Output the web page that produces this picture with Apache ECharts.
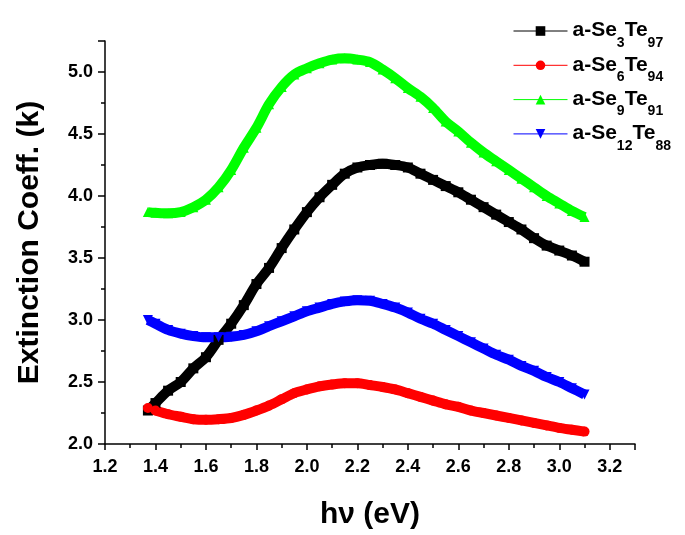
<!DOCTYPE html>
<html>
<head>
<meta charset="utf-8">
<script src="https://cdn.jsdelivr.net/npm/echarts@6/dist/echarts.min.js"></script>
<style>
html,body{margin:0;padding:0;background:#fff;}
#chart{width:685px;height:535px;}
</style>
</head>
<body>
<div id="chart"></div>
<script>
// photon energy (eV)
const energy = [1.37,1.40,1.45,1.50,1.55,1.60,1.65,1.70,1.75,1.80,1.85,1.90,1.95,2.00,2.05,2.10,2.15,2.20,2.25,2.30,2.35,2.40,2.45,2.50,2.55,2.60,2.65,2.70,2.75,2.80,2.85,2.90,2.95,3.00,3.05,3.10];
const kSe3Te97 = [2.27,2.33,2.43,2.50,2.61,2.70,2.84,2.97,3.12,3.29,3.42,3.58,3.73,3.87,3.99,4.09,4.18,4.23,4.25,4.26,4.25,4.23,4.18,4.13,4.08,4.03,3.97,3.91,3.85,3.79,3.73,3.66,3.60,3.56,3.52,3.47];
const kSe6Te94 = [2.29,2.27,2.24,2.22,2.20,2.195,2.20,2.21,2.235,2.27,2.31,2.36,2.41,2.44,2.465,2.48,2.49,2.49,2.475,2.46,2.44,2.41,2.38,2.35,2.32,2.30,2.27,2.25,2.23,2.21,2.19,2.17,2.15,2.13,2.115,2.10];
const kSe9Te91 = [3.87,3.865,3.86,3.87,3.91,3.97,4.07,4.21,4.39,4.55,4.74,4.88,4.98,5.03,5.07,5.10,5.11,5.10,5.08,5.02,4.95,4.87,4.80,4.71,4.60,4.52,4.43,4.35,4.28,4.21,4.14,4.07,4.00,3.94,3.88,3.83];
const kSe12Te88 = [3.00,2.97,2.92,2.89,2.87,2.86,2.86,2.865,2.88,2.91,2.95,2.99,3.03,3.07,3.10,3.13,3.15,3.16,3.155,3.13,3.10,3.06,3.01,2.97,2.92,2.87,2.82,2.77,2.72,2.68,2.63,2.59,2.54,2.50,2.45,2.40];
const seriesNames = ['a-Se3Te97','a-Se6Te94','a-Se9Te91','a-Se12Te88'];
const legendLabels = {
  'a-Se3Te97': '{m|a-Se}{s|3}{m|Te}{s|97}',
  'a-Se6Te94': '{m|a-Se}{s|6}{m|Te}{s|94}',
  'a-Se9Te91': '{m|a-Se}{s|9}{m|Te}{s|91}',
  'a-Se12Te88': '{m|a-Se}{s|12}{m|Te}{s|88}'
};
const xTickLabels = ['1.2','1.4','1.6','1.8','2.0','2.2','2.4','2.6','2.8','3.0','3.2'];
const yTickLabels = ['2.0','2.5','3.0','3.5','4.0','4.5','5.0'];

const FONT = 'Liberation Sans, Arial, sans-serif';
const colors = ['#000000','#ff0000','#00ff00','#0000ff'];
const symbols = ['rect','circle','triangle','triangle'];
const rotates = [0,0,0,180];
const values = [kSe3Te97,kSe6Te94,kSe9Te91,kSe12Te88];

const series = seriesNames.map((n,i)=>({
  name: n,
  type: 'line',
  data: energy.map((x,j)=>[x, values[i][j]]),
  symbol: symbols[i],
  symbolRotate: rotates[i],
  symbolSize: 10,
  smooth: 0.3,
  showAllSymbol: true,
  itemStyle: {color: colors[i]},
  lineStyle: {color: colors[i], width: 10},
  emphasis: {disabled: true}
}));

const chart = echarts.init(document.getElementById('chart'), null, {renderer:'canvas'});
chart.setOption({
  animation: false,
  backgroundColor: '#fff',
  grid: {left: 105, right: 50, top: 41, bottom: 89, containLabel: false},
  legend: {
    orient: 'vertical',
    left: 508,
    top: 15,
    itemWidth: 54,
    itemHeight: 12,
    itemGap: 4.3,
    selectedMode: false,
    formatter: n => legendLabels[n],
    textStyle: {
      color: '#000',
      fontFamily: FONT,
      fontWeight: 'bold',
      fontSize: 21,
      padding: [8,0,0,0],
      rich: {
        m: {fontSize: 21, fontWeight: 'bold', fontFamily: FONT, color: '#000', verticalAlign: 'top'},
        s: {fontSize: 14, fontWeight: 'bold', fontFamily: FONT, color: '#000', verticalAlign: 'bottom', padding: [16,0,0,0]}
      }
    },
    data: seriesNames.map((n,i)=>({name: n, lineStyle: {color: colors[i], width: 1}, itemStyle: {color: colors[i]}}))
  },
  xAxis: {
    type: 'value',
    min: 1.2, max: 3.3, interval: 0.2,
    name: 'h\u03bd (eV)',
    nameLocation: 'middle',
    nameGap: 56,
    nameTextStyle: {fontFamily: FONT, fontWeight: 'bold', fontSize: 30, color: '#000'},
    axisLine: {onZero: false, lineStyle: {color: '#000', width: 1.5}},
    axisTick: {show: true, inside: false, length: 6, lineStyle: {color: '#000', width: 1.5}},
    minorTick: {show: true, splitNumber: 2, length: 4, lineStyle: {color: '#000', width: 1.5}},
    splitLine: {show: false},
    axisLabel: {
      margin: 14, color: '#000', fontFamily: FONT, fontWeight: 'bold', fontSize: 18,
      showMaxLabel: false,
      formatter: v => { const i = Math.round((v - 1.2) / 0.2); return (Math.abs(v - (1.2 + i*0.2)) < 1e-6 && xTickLabels[i]) ? xTickLabels[i] : ''; }
    }
  },
  yAxis: {
    type: 'value',
    min: 2.0, max: 5.25, interval: 0.5,
    name: 'Extinction Coeff. (k)',
    nameLocation: 'middle',
    nameGap: 60,
    nameTextStyle: {fontFamily: FONT, fontWeight: 'bold', fontSize: 30, color: '#000'},
    axisLine: {onZero: false, lineStyle: {color: '#000', width: 1.5}},
    axisTick: {show: true, inside: false, length: 7, lineStyle: {color: '#000', width: 1.5}},
    minorTick: {show: true, splitNumber: 2, length: 4, lineStyle: {color: '#000', width: 1.5}},
    splitLine: {show: false},
    axisLabel: {
      margin: 12, color: '#000', fontFamily: FONT, fontWeight: 'bold', fontSize: 18,
      showMaxLabel: false,
      formatter: v => { const i = Math.round((v - 2.0) / 0.5); return (Math.abs(v - (2.0 + i*0.5)) < 1e-6 && yTickLabels[i]) ? yTickLabels[i] : ''; }
    }
  },
  series: series
});
</script>
</body>
</html>
